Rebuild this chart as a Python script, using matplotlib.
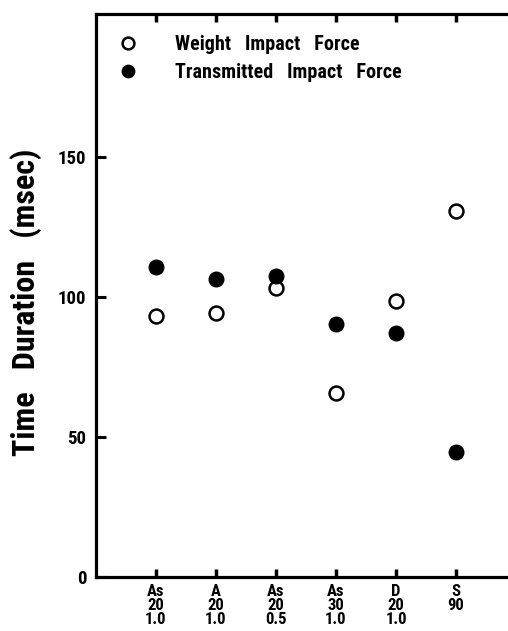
import matplotlib
matplotlib.use("Agg")
import matplotlib.pyplot as plt
from matplotlib import font_manager

# data
categories = ["As\n20\n1.0", "A\n20\n1.0", "As\n20\n0.5", "As\n30\n1.0", "D\n20\n1.0", "S\n90"]
positions = [1, 2, 3, 4, 5, 6]
weight_force = [93.2, 94.4, 103.3, 65.8, 98.7, 130.8]
transmitted_force = [110.8, 106.4, 107.3, 90.4, 87.0, 44.5]
y_ticks = [0, 50, 100, 150]

# pick a narrow bold face if one is installed
names = {f.name for f in font_manager.fontManager.ttflist}
family = "DejaVu Sans"
for cand in ["Liberation Sans Narrow", "Roboto Condensed", "Open Sans Condensed",
             "DejaVu Sans Condensed", "Noto Sans Condensed"]:
    if cand in names:
        family = cand
        break
stretch = "condensed" if family == "DejaVu Sans" else "normal"
plt.rcParams["font.family"] = [family, "DejaVu Sans"]
plt.rcParams["font.weight"] = "bold"
plt.rcParams["font.stretch"] = stretch

W, H = 508, 631
fig = plt.figure(figsize=(W / 100, H / 100), dpi=100)
ax = fig.add_axes([96 / W, 54 / H, 412 / W, 563 / H])

ax.plot(positions, weight_force, "o", ms=10, mfc="white", mec="black", mew=1.8,
        label="Weight   Impact   Force", clip_on=False)
ax.plot(positions, transmitted_force, "o", ms=10.5, mfc="black", mec="black",
        label="Transmitted   Impact   Force", clip_on=False)

ax.set_xlim(0, 412 / 60)
ax.set_ylim(0, 201)

ax.set_xticks(positions)
ax.set_xticklabels(categories, fontsize=12, fontweight="bold", linespacing=0.92)
ax.set_yticks(y_ticks)
ax.set_yticklabels([str(v) for v in y_ticks], fontsize=13.5, fontweight="bold")

ax.tick_params(axis="x", direction="in", length=6, width=2.5, pad=5,
               top=True, bottom=True)
ax.tick_params(axis="y", direction="in", length=7, width=2.2, pad=7)

for side in ("left", "bottom", "top"):
    ax.spines[side].set_linewidth(2.3)
ax.spines["right"].set_visible(False)

leg = ax.legend(loc="upper left", bbox_to_anchor=(0.054, 0.962), frameon=False,
                borderpad=0, borderaxespad=0, handlelength=1.0, handletextpad=1.8,
                labelspacing=0.45, numpoints=1, markerscale=0.85,
                prop={"size": 14.5, "weight": "bold", "stretch": stretch})

fig.text(26 / W, 1 - 302 / H, "Time   Duration   (msec)", rotation=90,
         ha="center", va="center", fontsize=23, fontweight="bold")

fig.savefig("out.png", dpi=100)
